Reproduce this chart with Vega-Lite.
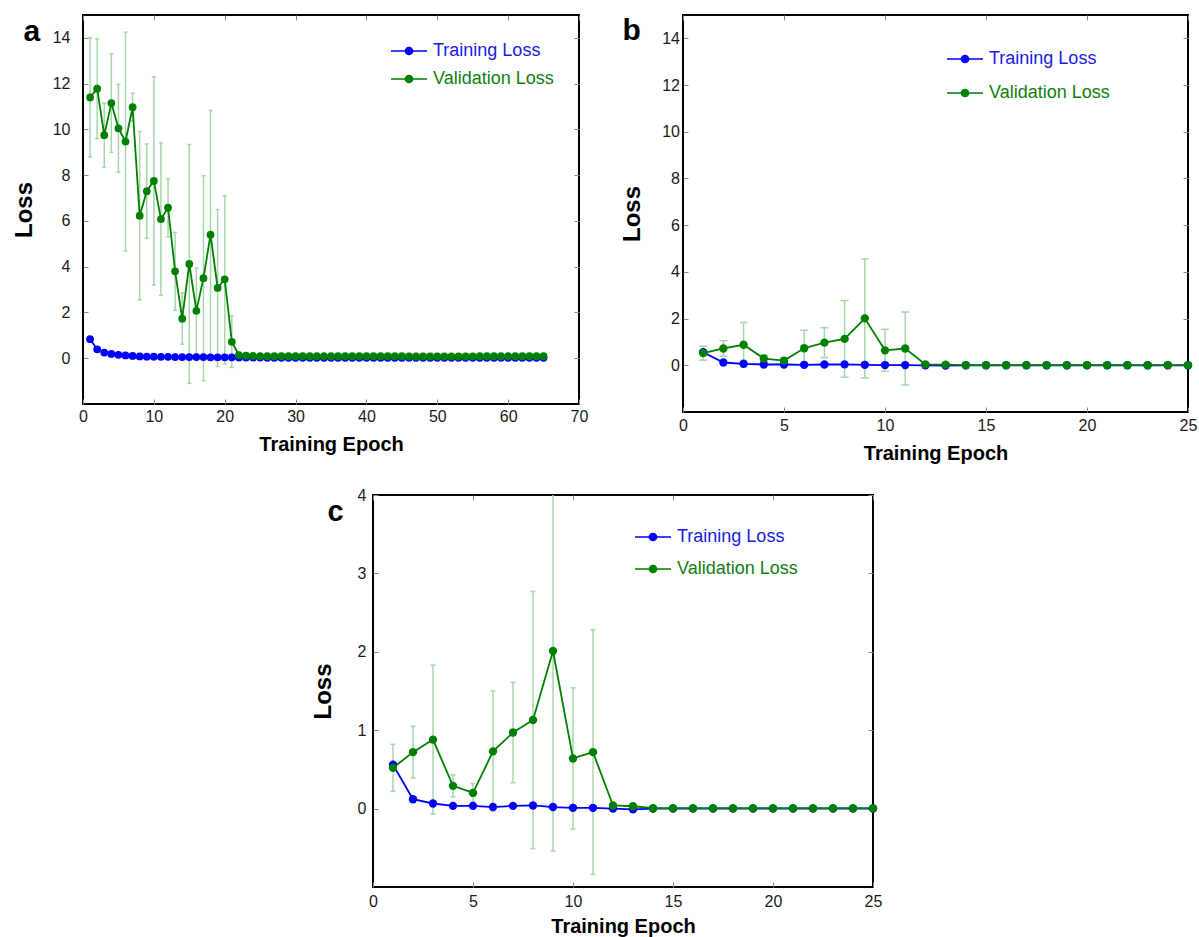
{
  "$schema": "https://vega.github.io/schema/vega-lite/v6.json",
  "padding": {"left": 11, "top": 13, "right": 0, "bottom": 0},
  "background": "white",
  "config": {
    "font": "Liberation Sans",
    "view": {"stroke": "black", "strokeWidth": 2},
    "axis": {"grid": false, "domain": false, "tickColor": "#888888", "tickSize": -5, "tickWidth": 1, "labelFlush": false, "labelOverlap": false, "labelFont": "Liberation Sans", "labelFontSize": 16, "labelColor": "#1a1a1a", "titleFont": "Liberation Sans", "titleFontWeight": "bold", "titleColor": "black"},
    "legend": {"labelFont": "Liberation Sans", "labelFontSize": 18}
  },
  "resolve": {"scale": {"color": "independent"}, "legend": {"color": "independent"}},
  "datasets": {
    "dsA": [
      {"e":1,"s":"Training Loss","v":0.83},{"e":2,"s":"Training Loss","v":0.39},{"e":3,"s":"Training Loss","v":0.25},{"e":4,"s":"Training Loss","v":0.19},{"e":5,"s":"Training Loss","v":0.15},
      {"e":6,"s":"Training Loss","v":0.12},{"e":7,"s":"Training Loss","v":0.1},{"e":8,"s":"Training Loss","v":0.08},{"e":9,"s":"Training Loss","v":0.07},{"e":10,"s":"Training Loss","v":0.07},
      {"e":11,"s":"Training Loss","v":0.06},{"e":12,"s":"Training Loss","v":0.06},{"e":13,"s":"Training Loss","v":0.05},{"e":14,"s":"Training Loss","v":0.05},{"e":15,"s":"Training Loss","v":0.05},
      {"e":16,"s":"Training Loss","v":0.05},{"e":17,"s":"Training Loss","v":0.05},{"e":18,"s":"Training Loss","v":0.04},{"e":19,"s":"Training Loss","v":0.04},{"e":20,"s":"Training Loss","v":0.04},
      {"e":21,"s":"Training Loss","v":0.04},{"e":22,"s":"Training Loss","v":0.03},{"e":23,"s":"Training Loss","v":0.03},{"e":24,"s":"Training Loss","v":0.03},{"e":25,"s":"Training Loss","v":0.03},
      {"e":26,"s":"Training Loss","v":0.02},{"e":27,"s":"Training Loss","v":0.02},{"e":28,"s":"Training Loss","v":0.02},{"e":29,"s":"Training Loss","v":0.02},{"e":30,"s":"Training Loss","v":0.02},
      {"e":31,"s":"Training Loss","v":0.02},{"e":32,"s":"Training Loss","v":0.02},{"e":33,"s":"Training Loss","v":0.02},{"e":34,"s":"Training Loss","v":0.02},{"e":35,"s":"Training Loss","v":0.02},
      {"e":36,"s":"Training Loss","v":0.02},{"e":37,"s":"Training Loss","v":0.02},{"e":38,"s":"Training Loss","v":0.02},{"e":39,"s":"Training Loss","v":0.02},{"e":40,"s":"Training Loss","v":0.02},
      {"e":41,"s":"Training Loss","v":0.02},{"e":42,"s":"Training Loss","v":0.02},{"e":43,"s":"Training Loss","v":0.02},{"e":44,"s":"Training Loss","v":0.02},{"e":45,"s":"Training Loss","v":0.02},
      {"e":46,"s":"Training Loss","v":0.02},{"e":47,"s":"Training Loss","v":0.02},{"e":48,"s":"Training Loss","v":0.02},{"e":49,"s":"Training Loss","v":0.02},{"e":50,"s":"Training Loss","v":0.02},
      {"e":51,"s":"Training Loss","v":0.02},{"e":52,"s":"Training Loss","v":0.02},{"e":53,"s":"Training Loss","v":0.02},{"e":54,"s":"Training Loss","v":0.02},{"e":55,"s":"Training Loss","v":0.02},
      {"e":56,"s":"Training Loss","v":0.02},{"e":57,"s":"Training Loss","v":0.02},{"e":58,"s":"Training Loss","v":0.02},{"e":59,"s":"Training Loss","v":0.02},{"e":60,"s":"Training Loss","v":0.02},
      {"e":61,"s":"Training Loss","v":0.02},{"e":62,"s":"Training Loss","v":0.02},{"e":63,"s":"Training Loss","v":0.02},{"e":64,"s":"Training Loss","v":0.02},{"e":65,"s":"Training Loss","v":0.02},
      {"e":1,"s":"Validation Loss","v":11.4,"lo":8.8,"hi":14.0},
      {"e":2,"s":"Validation Loss","v":11.78,"lo":9.6,"hi":13.96},
      {"e":3,"s":"Validation Loss","v":9.75,"lo":8.35,"hi":11.15},
      {"e":4,"s":"Validation Loss","v":11.15,"lo":9.0,"hi":13.3},
      {"e":5,"s":"Validation Loss","v":10.05,"lo":8.13,"hi":11.97},
      {"e":6,"s":"Validation Loss","v":9.47,"lo":4.69,"hi":14.25},
      {"e":7,"s":"Validation Loss","v":10.97,"lo":10.36,"hi":11.58},
      {"e":8,"s":"Validation Loss","v":6.23,"lo":2.55,"hi":9.91},
      {"e":9,"s":"Validation Loss","v":7.3,"lo":5.24,"hi":9.36},
      {"e":10,"s":"Validation Loss","v":7.75,"lo":3.2,"hi":12.3},
      {"e":11,"s":"Validation Loss","v":6.08,"lo":2.75,"hi":9.41},
      {"e":12,"s":"Validation Loss","v":6.58,"lo":5.31,"hi":7.85},
      {"e":13,"s":"Validation Loss","v":3.8,"lo":2.1,"hi":5.5},
      {"e":14,"s":"Validation Loss","v":1.73,"lo":0.61,"hi":2.85},
      {"e":15,"s":"Validation Loss","v":4.12,"lo":-1.1,"hi":9.34},
      {"e":16,"s":"Validation Loss","v":2.07,"lo":0.2,"hi":3.94},
      {"e":17,"s":"Validation Loss","v":3.5,"lo":-0.98,"hi":7.98},
      {"e":18,"s":"Validation Loss","v":5.4,"lo":-0.03,"hi":10.83},
      {"e":19,"s":"Validation Loss","v":3.07,"lo":-0.36,"hi":6.5},
      {"e":20,"s":"Validation Loss","v":3.45,"lo":-0.25,"hi":7.1},
      {"e":21,"s":"Validation Loss","v":0.72,"lo":-0.4,"hi":1.86},
      {"e":22,"s":"Validation Loss","v":0.14,"lo":0.11,"hi":0.17},
      {"e":23,"s":"Validation Loss","v":0.11,"lo":0.08,"hi":0.14},
      {"e":24,"s":"Validation Loss","v":0.1,"lo":0.07,"hi":0.13},
      {"e":25,"s":"Validation Loss","v":0.09,"lo":0.06,"hi":0.12},
      {"e":26,"s":"Validation Loss","v":0.09,"lo":0.06,"hi":0.12},
      {"e":27,"s":"Validation Loss","v":0.09,"lo":0.06,"hi":0.12},
      {"e":28,"s":"Validation Loss","v":0.09,"lo":0.06,"hi":0.12},
      {"e":29,"s":"Validation Loss","v":0.09,"lo":0.06,"hi":0.12},
      {"e":30,"s":"Validation Loss","v":0.09,"lo":0.06,"hi":0.12},
      {"e":31,"s":"Validation Loss","v":0.09,"lo":0.06,"hi":0.12},
      {"e":32,"s":"Validation Loss","v":0.09,"lo":0.06,"hi":0.12},
      {"e":33,"s":"Validation Loss","v":0.09,"lo":0.06,"hi":0.12},
      {"e":34,"s":"Validation Loss","v":0.09,"lo":0.06,"hi":0.12},
      {"e":35,"s":"Validation Loss","v":0.09,"lo":0.06,"hi":0.12},
      {"e":36,"s":"Validation Loss","v":0.09,"lo":0.06,"hi":0.12},
      {"e":37,"s":"Validation Loss","v":0.09,"lo":0.06,"hi":0.12},
      {"e":38,"s":"Validation Loss","v":0.09,"lo":0.06,"hi":0.12},
      {"e":39,"s":"Validation Loss","v":0.09,"lo":0.06,"hi":0.12},
      {"e":40,"s":"Validation Loss","v":0.09,"lo":0.06,"hi":0.12},
      {"e":41,"s":"Validation Loss","v":0.09,"lo":0.06,"hi":0.12},
      {"e":42,"s":"Validation Loss","v":0.09,"lo":0.06,"hi":0.12},
      {"e":43,"s":"Validation Loss","v":0.09,"lo":0.06,"hi":0.12},
      {"e":44,"s":"Validation Loss","v":0.09,"lo":0.06,"hi":0.12},
      {"e":45,"s":"Validation Loss","v":0.09,"lo":0.06,"hi":0.12},
      {"e":46,"s":"Validation Loss","v":0.08,"lo":0.05,"hi":0.11},
      {"e":47,"s":"Validation Loss","v":0.08,"lo":0.05,"hi":0.11},
      {"e":48,"s":"Validation Loss","v":0.08,"lo":0.05,"hi":0.11},
      {"e":49,"s":"Validation Loss","v":0.08,"lo":0.05,"hi":0.11},
      {"e":50,"s":"Validation Loss","v":0.08,"lo":0.05,"hi":0.11},
      {"e":51,"s":"Validation Loss","v":0.08,"lo":0.05,"hi":0.11},
      {"e":52,"s":"Validation Loss","v":0.08,"lo":0.05,"hi":0.11},
      {"e":53,"s":"Validation Loss","v":0.08,"lo":0.05,"hi":0.11},
      {"e":54,"s":"Validation Loss","v":0.08,"lo":0.05,"hi":0.11},
      {"e":55,"s":"Validation Loss","v":0.08,"lo":0.05,"hi":0.11},
      {"e":56,"s":"Validation Loss","v":0.09,"lo":0.06,"hi":0.12},
      {"e":57,"s":"Validation Loss","v":0.09,"lo":0.06,"hi":0.12},
      {"e":58,"s":"Validation Loss","v":0.09,"lo":0.06,"hi":0.12},
      {"e":59,"s":"Validation Loss","v":0.09,"lo":0.06,"hi":0.12},
      {"e":60,"s":"Validation Loss","v":0.09,"lo":0.06,"hi":0.12},
      {"e":61,"s":"Validation Loss","v":0.09,"lo":0.06,"hi":0.12},
      {"e":62,"s":"Validation Loss","v":0.09,"lo":0.06,"hi":0.12},
      {"e":63,"s":"Validation Loss","v":0.09,"lo":0.06,"hi":0.12},
      {"e":64,"s":"Validation Loss","v":0.09,"lo":0.06,"hi":0.12},
      {"e":65,"s":"Validation Loss","v":0.09,"lo":0.06,"hi":0.12}
    ],
    "dsBC": [
      {"e":1,"s":"Training Loss","v":0.56},{"e":2,"s":"Training Loss","v":0.12},{"e":3,"s":"Training Loss","v":0.065},{"e":4,"s":"Training Loss","v":0.035},{"e":5,"s":"Training Loss","v":0.035},
      {"e":6,"s":"Training Loss","v":0.02},{"e":7,"s":"Training Loss","v":0.035},{"e":8,"s":"Training Loss","v":0.04},{"e":9,"s":"Training Loss","v":0.02},{"e":10,"s":"Training Loss","v":0.01},
      {"e":11,"s":"Training Loss","v":0.01},{"e":12,"s":"Training Loss","v":0.0},{"e":13,"s":"Training Loss","v":-0.01},{"e":14,"s":"Training Loss","v":0.0},{"e":15,"s":"Training Loss","v":0.0},
      {"e":16,"s":"Training Loss","v":0.0},{"e":17,"s":"Training Loss","v":0.0},{"e":18,"s":"Training Loss","v":0.0},{"e":19,"s":"Training Loss","v":0.0},{"e":20,"s":"Training Loss","v":0.0},
      {"e":21,"s":"Training Loss","v":0.0},{"e":22,"s":"Training Loss","v":0.0},{"e":23,"s":"Training Loss","v":0.0},{"e":24,"s":"Training Loss","v":0.0},{"e":25,"s":"Training Loss","v":0.0},
      {"e":1,"s":"Validation Loss","v":0.52,"lo":0.22,"hi":0.82},
      {"e":2,"s":"Validation Loss","v":0.72,"lo":0.39,"hi":1.05},
      {"e":3,"s":"Validation Loss","v":0.88,"lo":-0.07,"hi":1.83},
      {"e":4,"s":"Validation Loss","v":0.29,"lo":0.15,"hi":0.43},
      {"e":5,"s":"Validation Loss","v":0.2,"lo":0.09,"hi":0.32},
      {"e":6,"s":"Validation Loss","v":0.73,"lo":-0.03,"hi":1.5},
      {"e":7,"s":"Validation Loss","v":0.97,"lo":0.33,"hi":1.61},
      {"e":8,"s":"Validation Loss","v":1.13,"lo":-0.51,"hi":2.77},
      {"e":9,"s":"Validation Loss","v":2.01,"lo":-0.54,"hi":4.56},
      {"e":10,"s":"Validation Loss","v":0.64,"lo":-0.26,"hi":1.54},
      {"e":11,"s":"Validation Loss","v":0.72,"lo":-0.84,"hi":2.28},
      {"e":12,"s":"Validation Loss","v":0.04,"lo":0.01,"hi":0.07},
      {"e":13,"s":"Validation Loss","v":0.03,"lo":0.01,"hi":0.05},
      {"e":14,"s":"Validation Loss","v":0.005,"lo":0.0,"hi":0.01},
      {"e":15,"s":"Validation Loss","v":0.005,"lo":0.0,"hi":0.01},
      {"e":16,"s":"Validation Loss","v":0.005,"lo":0.0,"hi":0.01},
      {"e":17,"s":"Validation Loss","v":0.005,"lo":0.0,"hi":0.01},
      {"e":18,"s":"Validation Loss","v":0.005,"lo":0.0,"hi":0.01},
      {"e":19,"s":"Validation Loss","v":0.005,"lo":0.0,"hi":0.01},
      {"e":20,"s":"Validation Loss","v":0.005,"lo":0.0,"hi":0.01},
      {"e":21,"s":"Validation Loss","v":0.005,"lo":0.0,"hi":0.01},
      {"e":22,"s":"Validation Loss","v":0.005,"lo":0.0,"hi":0.01},
      {"e":23,"s":"Validation Loss","v":0.005,"lo":0.0,"hi":0.01},
      {"e":24,"s":"Validation Loss","v":0.005,"lo":0.0,"hi":0.01},
      {"e":25,"s":"Validation Loss","v":0.005,"lo":0.0,"hi":0.01}
    ]
  },
  "spacing": 22,
  "vconcat": [
    {
      "spacing": 30,
      "resolve": {"scale": {"color": "independent"}, "legend": {"color": "independent"}},
      "hconcat": [
        {
          "width": 496, "height": 389,
          "data": {"name": "dsA"},
          "layer": [
            {"transform": [{"filter": "datum.s == 'Validation Loss'"}],
             "mark": {"type": "rule", "color": "#a8d6a8", "strokeWidth": 1.5, "clip": true},
             "encoding": {
               "x": {"field": "e", "type": "quantitative", "scale": {"domain": [0, 70], "nice": false}, "axis": {"orient": "top", "values": [0,10,20,30,40,50,60,70], "labels": false, "title": "a", "titleX": -60, "titleY": 25, "titleAngle": 0, "titleAlign": "left", "titleBaseline": "alphabetic", "titleFontSize": 30, "titleFontWeight": "bold"}},
               "y": {"field": "lo", "type": "quantitative", "scale": {"domain": [-2, 15], "nice": false}, "axis": {"orient": "right", "values": [0,2,4,6,8,10,12,14], "labels": false, "title": null}},
               "y2": {"field": "hi"}
             }},
            {"transform": [{"filter": "datum.s == 'Validation Loss'"}],
             "mark": {"type": "tick", "orient": "horizontal", "size": 4, "thickness": 1.5, "color": "#a8d6a8", "opacity": 1, "clip": true},
             "encoding": {"x": {"field": "e", "type": "quantitative", "axis": null}, "y": {"field": "lo", "type": "quantitative", "axis": null}}},
            {"transform": [{"filter": "datum.s == 'Validation Loss'"}],
             "mark": {"type": "tick", "orient": "horizontal", "size": 4, "thickness": 1.5, "color": "#a8d6a8", "opacity": 1, "clip": true},
             "encoding": {"x": {"field": "e", "type": "quantitative", "axis": null}, "y": {"field": "hi", "type": "quantitative", "axis": null}}},
            {"mark": {"type": "line", "strokeWidth": 1.8},
             "encoding": {
               "x": {"field": "e", "type": "quantitative", "axis": {"orient": "bottom", "values": [0,10,20,30,40,50,60,70], "title": "Training Epoch", "titleFontSize": 20, "labelPadding": 9, "titlePadding": 10}},
               "y": {"field": "v", "type": "quantitative", "axis": {"orient": "left", "values": [0,2,4,6,8,10,12,14], "title": "Loss", "titleFontSize": 24, "labelPadding": 18, "titlePadding": 16}},
               "color": {"field": "s", "type": "nominal", "scale": {"domain": ["Training Loss", "Validation Loss"], "range": ["#0000ff", "#008000"]}, "legend": {"title": null, "orient": "none", "legendX": 307, "legendY": 17, "padding": 0, "rowPadding": -4, "labelOffset": 5, "symbolType": "M-1,0L1,0M-0.2,0A0.2,0.2,0,1,1,0.2,0A0.2,0.2,0,1,1,-0.2,0Z", "symbolSize": 1296, "symbolStrokeWidth": 1.5, "symbolOpacity": 1, "symbolFillColor": {"expr": "datum.value == 'Training Loss' ? '#0000ff' : '#008000'"}, "labelColor": {"expr": "datum.value == 'Training Loss' ? '#1a1ae6' : '#108010'"}}}
             }},
            {"mark": {"type": "point", "filled": true, "size": 60, "opacity": 1},
             "encoding": {
               "x": {"field": "e", "type": "quantitative", "axis": null},
               "y": {"field": "v", "type": "quantitative", "axis": null},
               "color": {"field": "s", "type": "nominal", "legend": null}
             }}
          ],
          "resolve": {"axis": {"x": "independent", "y": "independent"}}
        },
        {
          "width": 505, "height": 397,
          "data": {"name": "dsBC"},
          "layer": [
            {"transform": [{"filter": "datum.s == 'Validation Loss'"}],
             "mark": {"type": "rule", "color": "#a8d6a8", "strokeWidth": 1.5, "clip": true},
             "encoding": {
               "x": {"field": "e", "type": "quantitative", "scale": {"domain": [0, 25], "nice": false}, "axis": {"orient": "top", "values": [0,5,10,15,20,25], "labels": false, "title": "b", "titleX": -61, "titleY": 24, "titleAngle": 0, "titleAlign": "left", "titleBaseline": "alphabetic", "titleFontSize": 30, "titleFontWeight": "bold"}},
               "y": {"field": "lo", "type": "quantitative", "scale": {"domain": [-2, 15], "nice": false}, "axis": {"orient": "right", "values": [0,2,4,6,8,10,12,14], "labels": false, "title": null}},
               "y2": {"field": "hi"}
             }},
            {"transform": [{"filter": "datum.s == 'Validation Loss'"}],
             "mark": {"type": "tick", "orient": "horizontal", "size": 8, "thickness": 1.5, "color": "#a8d6a8", "opacity": 1, "clip": true},
             "encoding": {"x": {"field": "e", "type": "quantitative", "axis": null}, "y": {"field": "lo", "type": "quantitative", "axis": null}}},
            {"transform": [{"filter": "datum.s == 'Validation Loss'"}],
             "mark": {"type": "tick", "orient": "horizontal", "size": 8, "thickness": 1.5, "color": "#a8d6a8", "opacity": 1, "clip": true},
             "encoding": {"x": {"field": "e", "type": "quantitative", "axis": null}, "y": {"field": "hi", "type": "quantitative", "axis": null}}},
            {"mark": {"type": "line", "strokeWidth": 1.8},
             "encoding": {
               "x": {"field": "e", "type": "quantitative", "axis": {"orient": "bottom", "values": [0,5,10,15,20,25], "title": "Training Epoch", "titleFontSize": 20, "labelPadding": 10, "titlePadding": 10}},
               "y": {"field": "v", "type": "quantitative", "axis": {"orient": "left", "values": [0,2,4,6,8,10,12,14], "title": "Loss", "titleFontSize": 24, "labelPadding": 8.5, "titlePadding": 17}},
               "color": {"field": "s", "type": "nominal", "scale": {"domain": ["Training Loss", "Validation Loss"], "range": ["#0000ff", "#008000"]}, "legend": {"title": null, "orient": "none", "legendX": 263, "legendY": 25, "padding": 0, "rowPadding": 6, "labelOffset": 5, "symbolType": "M-1,0L1,0M-0.2,0A0.2,0.2,0,1,1,0.2,0A0.2,0.2,0,1,1,-0.2,0Z", "symbolSize": 1296, "symbolStrokeWidth": 1.5, "symbolOpacity": 1, "symbolFillColor": {"expr": "datum.value == 'Training Loss' ? '#0000ff' : '#008000'"}, "labelColor": {"expr": "datum.value == 'Training Loss' ? '#1a1ae6' : '#108010'"}}}
             }},
            {"mark": {"type": "point", "filled": true, "size": 70, "opacity": 1},
             "encoding": {
               "x": {"field": "e", "type": "quantitative", "axis": null},
               "y": {"field": "v", "type": "quantitative", "axis": null},
               "color": {"field": "s", "type": "nominal", "legend": null}
             }}
          ],
          "resolve": {"axis": {"x": "independent", "y": "independent"}}
        }
      ]
    },
    {
      "spacing": 0,
      "resolve": {"scale": {"color": "independent"}, "legend": {"color": "independent"}},
      "hconcat": [
        {"width": 227, "height": 10, "view": {"stroke": null}, "data": {"values": []}, "mark": "point"},
        {
          "width": 500, "height": 392,
          "data": {"name": "dsBC"},
          "layer": [
            {"transform": [{"filter": "datum.s == 'Validation Loss'"}],
             "mark": {"type": "rule", "color": "#a8d6a8", "strokeWidth": 1.5, "clip": true},
             "encoding": {
               "x": {"field": "e", "type": "quantitative", "scale": {"domain": [0, 25], "nice": false}, "axis": {"orient": "top", "values": [0,5,10,15,20,25], "labels": false, "title": "c", "titleX": -46, "titleY": 25, "titleAngle": 0, "titleAlign": "left", "titleBaseline": "alphabetic", "titleFontSize": 29, "titleFontWeight": "bold"}},
               "y": {"field": "lo", "type": "quantitative", "scale": {"domain": [-1, 4], "nice": false}, "axis": {"orient": "right", "values": [0,1,2,3,4], "labels": false, "title": null}},
               "y2": {"field": "hi"}
             }},
            {"transform": [{"filter": "datum.s == 'Validation Loss'"}],
             "mark": {"type": "tick", "orient": "horizontal", "size": 5, "thickness": 1.5, "color": "#a8d6a8", "opacity": 1, "clip": true},
             "encoding": {"x": {"field": "e", "type": "quantitative", "axis": null}, "y": {"field": "lo", "type": "quantitative", "axis": null}}},
            {"transform": [{"filter": "datum.s == 'Validation Loss'"}],
             "mark": {"type": "tick", "orient": "horizontal", "size": 5, "thickness": 1.5, "color": "#a8d6a8", "opacity": 1, "clip": true},
             "encoding": {"x": {"field": "e", "type": "quantitative", "axis": null}, "y": {"field": "hi", "type": "quantitative", "axis": null}}},
            {"mark": {"type": "line", "strokeWidth": 1.8},
             "encoding": {
               "x": {"field": "e", "type": "quantitative", "axis": {"orient": "bottom", "values": [0,5,10,15,20,25], "title": "Training Epoch", "titleFontSize": 20, "labelPadding": 11, "titlePadding": 7}},
               "y": {"field": "v", "type": "quantitative", "axis": {"orient": "left", "values": [0,1,2,3,4], "title": "Loss", "titleFontSize": 24, "labelPadding": 12, "titlePadding": 22}},
               "color": {"field": "s", "type": "nominal", "scale": {"domain": ["Training Loss", "Validation Loss"], "range": ["#0000ff", "#008000"]}, "legend": {"title": null, "orient": "none", "legendX": 261, "legendY": 23, "padding": 0, "rowPadding": 4, "labelOffset": 5, "symbolType": "M-1,0L1,0M-0.2,0A0.2,0.2,0,1,1,0.2,0A0.2,0.2,0,1,1,-0.2,0Z", "symbolSize": 1296, "symbolStrokeWidth": 1.5, "symbolOpacity": 1, "symbolFillColor": {"expr": "datum.value == 'Training Loss' ? '#0000ff' : '#008000'"}, "labelColor": {"expr": "datum.value == 'Training Loss' ? '#1a1ae6' : '#108010'"}}}
             }},
            {"mark": {"type": "point", "filled": true, "size": 70, "opacity": 1},
             "encoding": {
               "x": {"field": "e", "type": "quantitative", "axis": null},
               "y": {"field": "v", "type": "quantitative", "axis": null},
               "color": {"field": "s", "type": "nominal", "legend": null}
             }}
          ],
          "resolve": {"axis": {"x": "independent", "y": "independent"}}
        }
      ]
    }
  ]
}
